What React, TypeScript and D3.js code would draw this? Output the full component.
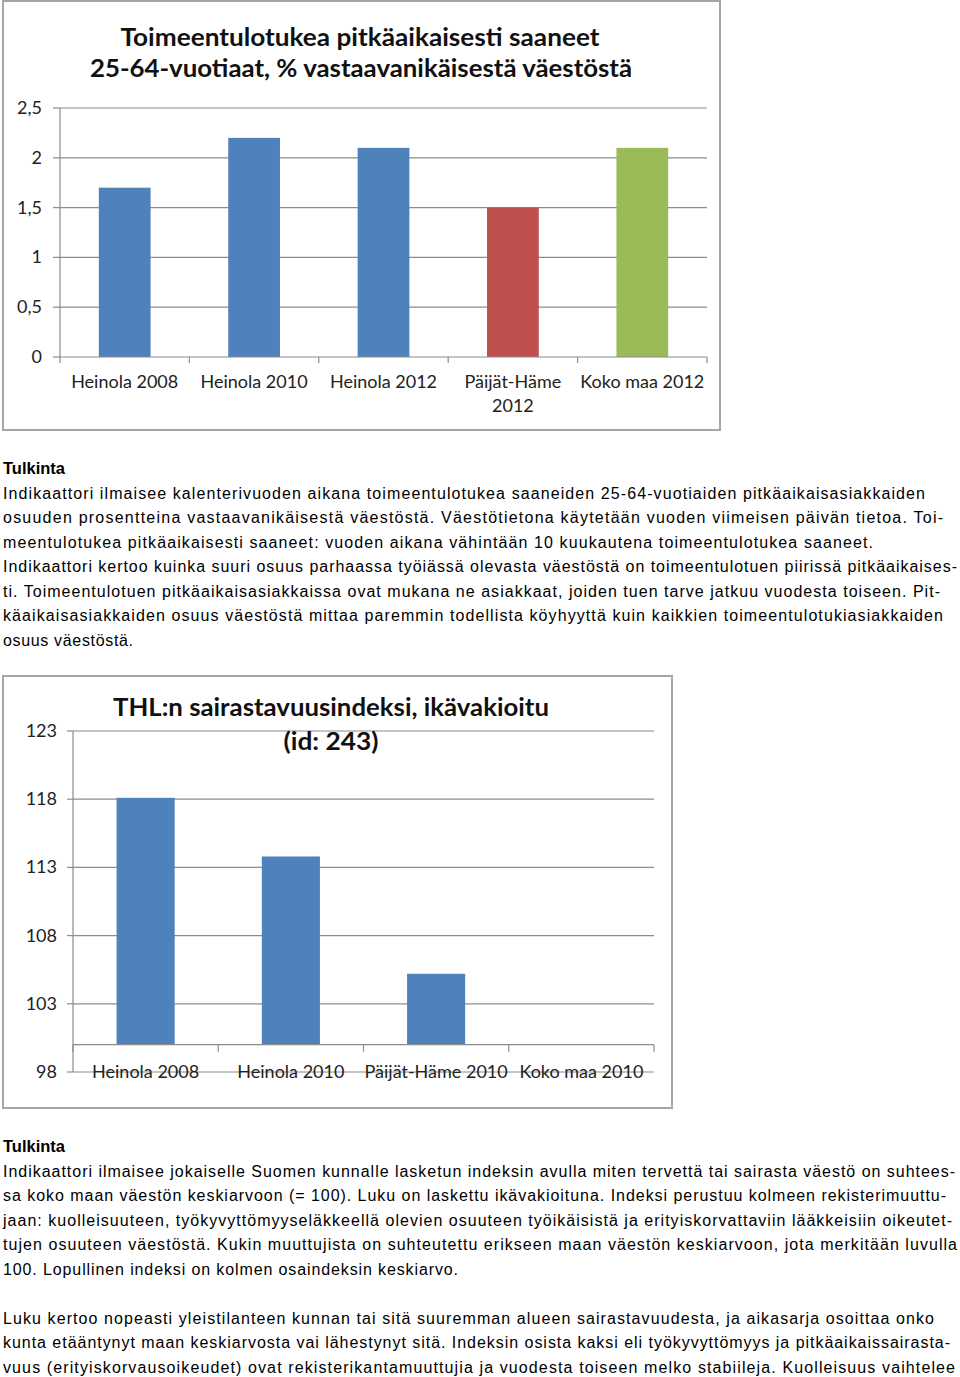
import React from "react";
import * as d3 from "d3";

// ---------- DATA ----------
const chart1Title = ["Toimeentulotukea pitkäaikaisesti saaneet", "25-64-vuotiaat, % vastaavanikäisestä väestöstä"];
const chart1Categories = ["Heinola 2008", "Heinola 2010", "Heinola 2012", "Päijät-Häme 2012", "Koko maa 2012"];
const chart1Values = [1.7, 2.2, 2.1, 1.5, 2.1];
const chart1Colors = ["#4F81BD", "#4F81BD", "#4F81BD", "#C0504D", "#9BBB59"];
const chart1Ticks = [0, 0.5, 1, 1.5, 2, 2.5];

const chart2Title = ["THL:n sairastavuusindeksi, ikävakioitu", "(id: 243)"];
const chart2Categories = ["Heinola 2008", "Heinola 2010", "Päijät-Häme 2010", "Koko maa 2010"];
const chart2Values = [118.1, 113.8, 105.2, 100];
const chart2Baseline = 100;
const chart2Ticks = [98, 103, 108, 113, 118, 123];

const text1Heading = "Tulkinta";
const text1Lines = [
  "Indikaattori ilmaisee kalenterivuoden aikana toimeentulotukea saaneiden 25-64-vuotiaiden pitkäaikaisasiakkaiden",
  "osuuden prosentteina vastaavanikäisestä väestöstä. Väestötietona käytetään vuoden viimeisen päivän tietoa. Toi-",
  "meentulotukea pitkäaikaisesti saaneet: vuoden aikana vähintään 10 kuukautena toimeentulotukea saaneet.",
  "Indikaattori kertoo kuinka suuri osuus parhaassa työiässä olevasta väestöstä on toimeentulotuen piirissä pitkäaikaises-",
  "ti. Toimeentulotuen pitkäaikaisasiakkaissa ovat mukana ne asiakkaat, joiden tuen tarve jatkuu vuodesta toiseen. Pit-",
  "käaikaisasiakkaiden osuus väestöstä mittaa paremmin todellista köyhyyttä kuin kaikkien toimeentulotukiasiakkaiden",
  "osuus väestöstä.",
];
const text2Heading = "Tulkinta";
const text2Lines = [
  "Indikaattori ilmaisee jokaiselle Suomen kunnalle lasketun indeksin avulla miten tervettä tai sairasta väestö on suhtees-",
  "sa koko maan väestön keskiarvoon (= 100). Luku on laskettu ikävakioituna. Indeksi perustuu kolmeen rekisterimuuttu-",
  "jaan: kuolleisuuteen, työkyvyttömyyseläkkeellä olevien osuuteen työikäisistä ja erityiskorvattaviin lääkkeisiin oikeutet-",
  "tujen osuuteen väestöstä. Kukin muuttujista on suhteutettu erikseen maan väestön keskiarvoon, jota merkitään luvulla",
  "100. Lopullinen indeksi on kolmen osaindeksin keskiarvo.",
  "",
  "Luku kertoo nopeasti yleistilanteen kunnan tai sitä suuremman alueen sairastavuudesta, ja aikasarja osoittaa onko",
  "kunta etääntynyt maan keskiarvosta vai lähestynyt sitä. Indeksin osista kaksi eli työkyvyttömyys ja pitkäaikaissairasta-",
  "vuus (erityiskorvausoikeudet) ovat rekisterikantamuuttujia ja vuodesta toiseen melko stabiileja. Kuolleisuus vaihtelee",
];

// ---------- LAYOUT ----------
const W = 960;
const H = 1377;
const chartFont = "Lato, 'Open Sans', sans-serif";
const bodyFont = "'Liberation Sans', Arial, sans-serif";
const text1Widths = [925, 943, 873, 957, 940, 943, 133];
const text2Widths = [955, 946, 952, 957, 458, 0, 934, 950, 955];

const fmt = (v: number) => String(v).replace(".", ",");

function Chart1() {
  const left = 60, right = 707, top = 108, bottom = 357;
  const x = d3.scaleBand<string>().domain(chart1Categories).range([left, right]).paddingInner(0.6).paddingOuter(0.3);
  const xb = d3.scaleBand<string>().domain(chart1Categories).range([left, right]);
  const y = d3.scaleLinear().domain([0, 2.5]).range([bottom, top]);
  return (
    <g>
      <rect x={3} y={1} width={717} height={429} fill="#fff" stroke="#A6A6A6" strokeWidth={2} />
      <text x={360} y={46} textAnchor="middle" fontFamily={chartFont} fontWeight={700} fontSize={25} fill="#111" textLength={479} lengthAdjust="spacingAndGlyphs">{chart1Title[0]}</text>
      <text x={361} y={77} textAnchor="middle" fontFamily={chartFont} fontWeight={700} fontSize={25} fill="#111" textLength={542} lengthAdjust="spacingAndGlyphs">{chart1Title[1]}</text>
      {chart1Ticks.map((t) => (
        <g key={t}>
          {t > 0 && <line x1={left} x2={right} y1={y(t)} y2={y(t)} stroke="#8C8C8C" strokeWidth={1.2} />}
          <line x1={left - 7} x2={left} y1={y(t)} y2={y(t)} stroke="#8C8C8C" strokeWidth={1.2} />
          <text x={42} y={y(t) + 6} textAnchor="end" fontFamily={chartFont} fontSize={18} fill="#222">{fmt(t)}</text>
        </g>
      ))}
      <line x1={left} x2={left} y1={top} y2={bottom} stroke="#8C8C8C" strokeWidth={1.2} />
      {chart1Categories.map((c, i) => (
        <rect key={c} x={x(c)} y={y(chart1Values[i])} width={x.bandwidth()} height={bottom - y(chart1Values[i])} fill={chart1Colors[i]} />
      ))}
      <line x1={left} x2={right} y1={bottom} y2={bottom} stroke="#8C8C8C" strokeWidth={1.2} />
      {[...chart1Categories.map((c) => xb(c) as number), right].map((b, i) => (
        <line key={i} x1={b} x2={b} y1={bottom} y2={bottom + 6} stroke="#8C8C8C" strokeWidth={1.2} />
      ))}
      {chart1Categories.map((c) => {
        const cx = (xb(c) as number) + xb.bandwidth() / 2;
        const parts = c === "Päijät-Häme 2012" ? ["Päijät-Häme", "2012"] : [c];
        return parts.map((p, j) => (
          <text key={c + j} x={cx} y={388 + j * 24} textAnchor="middle" fontFamily={chartFont} fontSize={18} fill="#222">{p}</text>
        ));
      })}
    </g>
  );
}

function Chart2() {
  const left = 73, right = 654;
  const x = d3.scaleBand<string>().domain(chart2Categories).range([left, right]).paddingInner(0.6).paddingOuter(0.3);
  const xb = d3.scaleBand<string>().domain(chart2Categories).range([left, right]);
  const y = d3.scaleLinear().domain([98, 123]).range([1072, 731]);
  const base = y(chart2Baseline);
  return (
    <g>
      <rect x={3} y={676} width={669} height={432} fill="#fff" stroke="#A6A6A6" strokeWidth={2} />
      {chart2Ticks.map((t) => (
        <g key={t}>
          <line x1={left} x2={right} y1={y(t)} y2={y(t)} stroke="#8C8C8C" strokeWidth={1.2} />
          <line x1={left - 6} x2={left} y1={y(t)} y2={y(t)} stroke="#8C8C8C" strokeWidth={1.2} />
          <text x={57} y={y(t) + 6} textAnchor="end" fontFamily={chartFont} fontSize={18} fill="#222">{t}</text>
        </g>
      ))}
      <line x1={left} x2={left} y1={y(123)} y2={y(98)} stroke="#8C8C8C" strokeWidth={1.2} />
      {chart2Categories.map((c, i) => (
        <rect key={c} x={x(c)} y={y(chart2Values[i])} width={x.bandwidth()} height={Math.max(0, base - y(chart2Values[i]))} fill="#4F81BD" />
      ))}
      <line x1={left} x2={right} y1={base} y2={base} stroke="#8C8C8C" strokeWidth={1.2} />
      {[...chart2Categories.map((c) => xb(c) as number), right].map((b, i) => (
        <line key={i} x1={b} x2={b} y1={base} y2={base + 7} stroke="#8C8C8C" strokeWidth={1.2} />
      ))}
      {chart2Categories.map((c) => (
        <text key={c} x={(xb(c) as number) + xb.bandwidth() / 2} y={1078} textAnchor="middle" fontFamily={chartFont} fontSize={18} fill="#222">{c}</text>
      ))}
      <text x={331} y={716} textAnchor="middle" fontFamily={chartFont} fontWeight={700} fontSize={25} fill="#111" textLength={436} lengthAdjust="spacingAndGlyphs">{chart2Title[0]}</text>
      <text x={331} y={750} textAnchor="middle" fontFamily={chartFont} fontWeight={700} fontSize={25} fill="#111" textLength={95} lengthAdjust="spacingAndGlyphs">{chart2Title[1]}</text>
    </g>
  );
}

function Paragraph({ heading, lines, widths, top }: { heading: string; lines: string[]; widths: number[]; top: number }) {
  return (
    <g fontFamily={bodyFont} fontSize={16} fill="#000">
      <text x={3} y={top} fontWeight={700} fontSize={16.5}>{heading}</text>
      {lines.map((l, i) =>
        l ? (
          <text key={i} x={3} y={top + 24.5 * (i + 1)} textLength={widths[i] - 3} lengthAdjust="spacing">{l}</text>
        ) : null
      )}
    </g>
  );
}

export default function App() {
  return (
    <svg width={W} height={H} style={{ position: "absolute", left: 0, top: 0, background: "#fff" }}>
      <rect width={W} height={H} fill="#fff" />
      <Chart1 />
      <Paragraph heading={text1Heading} lines={text1Lines} widths={text1Widths} top={474} />
      <Chart2 />
      <Paragraph heading={text2Heading} lines={text2Lines} widths={text2Widths} top={1152} />
    </svg>
  );
}
